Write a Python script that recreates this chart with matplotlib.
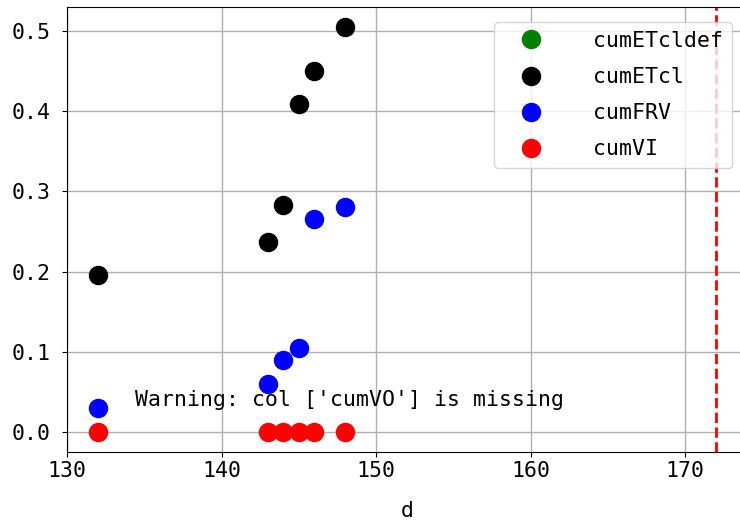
import numpy as np
import matplotlib
matplotlib.use("Agg")
import matplotlib.pyplot as plt

plt.rcParams['font.family'] = ['DejaVu Sans Mono', 'Noto Sans CJK SC']
plt.rcParams['axes.unicode_minus'] = False

# data
d = [132, 143, 144, 145, 146, 148]
cumETcldef = [np.nan] * 6
cumETcl = [0.196, 0.237, 0.283, 0.409, 0.450, 0.505]
cumFRV = [0.030, 0.060, 0.089, 0.104, 0.266, 0.281]
cumVI = [0.0, 0.0, 0.0, 0.0, 0.0, 0.0]
d_end = 172
warning = "Warning: col ['cumVO'] is missing"

fs = 15.5

fig = plt.figure(figsize=(7.4, 5.24), dpi=100)
ax = fig.add_axes([0.0905, 0.138, 0.919, 0.848])

series = [("cumETcldef", cumETcldef, "green"),
          ("cumETcl", cumETcl, "black"),
          ("cumFRV", cumFRV, "blue"),
          ("cumVI", cumVI, "red")]
for name, vals, col in series:
    ax.plot(d, vals, 'o', color=col, markersize=13, label=name)

ax.axvline(d_end, color='red', linestyle='--', linewidth=2)
ax.text(134.4, 0.040, warning, fontsize=fs, va='center', ha='left')

ax.set_xlim(130, 174)
ax.set_ylim(-0.025, 0.530)
ax.set_xticks([130, 140, 150, 160, 170])
ax.set_yticks([0.0, 0.1, 0.2, 0.3, 0.4, 0.5])
ax.tick_params(labelsize=fs)
ax.tick_params(axis='y', pad=8)
ax.set_xlabel('d', fontsize=fs, labelpad=14)
ax.grid(True, color='#b0b0b0', linewidth=1)

ax.legend(loc='upper right', fontsize=fs, handlelength=2.6, handletextpad=1.6,
          borderaxespad=0.7, labelspacing=0.75)

fig.savefig('out.png', dpi=100)
